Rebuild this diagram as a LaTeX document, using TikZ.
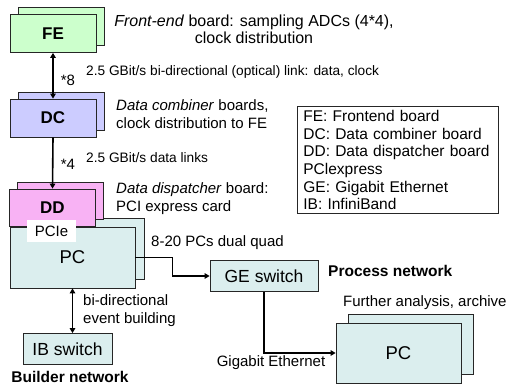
\documentclass[tikz,border=0pt]{standalone}
\usepackage{fontspec}
\setmainfont{Liberation Sans}
\usetikzlibrary{arrows.meta,shadows}

\definecolor{fegreen}{RGB}{204,255,204}
\definecolor{dcblue}{RGB}{204,204,255}
\definecolor{ddpink}{RGB}{248,178,244}
\definecolor{pccyan}{RGB}{219,238,238}

\tikzset{
  board/.style={draw=black!85,line width=0.8pt,minimum width=86pt,minimum height=38pt,
    font=\fontsize{17}{17}\selectfont\bfseries},
  pcbox/.style={draw=black!85,line width=0.8pt,fill=pccyan,minimum width=125pt,minimum height=61pt,
    font=\fontsize{18.5}{18.5}\selectfont},
  switchbox/.style={draw=black!85,line width=0.8pt,fill=pccyan,minimum height=31pt,
    font=\fontsize{17.5}{17.5}\selectfont},
  desc/.style={inner sep=0pt,font=\fontsize{15}{18}\selectfont},
  linktext/.style={inner sep=0pt,font=\fontsize{13.7}{16}\selectfont},
  netname/.style={inner sep=0pt,font=\fontsize{15.5}{18}\selectfont\bfseries},
  link/.style={line width=1.6pt,-{Triangle[length=5pt,width=5.5pt]}},
  dlink/.style={line width=1.6pt,{Triangle[length=5pt,width=5.5pt]}-{Triangle[length=5pt,width=5.5pt]}}
}

\begin{document}
\begin{tikzpicture}[x=1pt,y=-1pt]
    \useasboundingbox (0,0) rectangle (513,385);
    % boards
    \node[board,fill=fegreen,copy shadow={shadow xshift=8pt,shadow yshift=7pt}] (FE) at (53,33.5) {FE};
    \node[board,fill=dcblue,copy shadow={shadow xshift=8pt,shadow yshift=7pt}] (DC) at (53,118) {DC};
    \node[pcbox,copy shadow={shadow xshift=9pt,shadow yshift=9pt}] (PC) at (72.5,257.5) {PC};
    \node[board,fill=ddpink,minimum height=37pt,copy shadow={shadow xshift=8pt,shadow yshift=7pt}] (DD) at (52.5,207.5) {DD};
    \node[fill=white,minimum width=49pt,minimum height=22pt,inner sep=0pt,font=\fontsize{15}{15}\selectfont] (PCIe) at (51.5,231) {PCIe};
    \node[switchbox,minimum width=108pt] (GE) at (264,276) {GE switch};
    \node[switchbox,minimum width=89pt] (IB) at (67.5,349) {IB switch};
    \node[pcbox,minimum height=60pt,copy shadow={shadow xshift=12pt,shadow yshift=9pt}] (PCr) at (398.5,353) {PC};
    % legend
    \node[draw=black!85,line width=0.8pt,fill=white,anchor=north west,align=left,text width=189pt,
      inner xsep=6pt,inner ysep=4pt,font=\fontsize{15.5}{17.6}\selectfont] (legend) at (297,106)
      {FE: Frontend board\\DC: Data combiner board\\DD: Data dispatcher board\\PClexpress\\GE: Gigabit Ethernet\\IB: InfiniBand};
    % links
    \draw[dlink] (FE.south) -- (DC.north);
    \draw[link] (DC.south) -- (DD.north);
    \draw[link] (PC.east) -- ++(37,0) |- (GE.west);
    \draw[link] (GE.south) |- (PCr.west);
    \draw[dlink] (PC.south) -- (PC.south |- IB.north);
    % texts
    \node[desc,align=center,font=\fontsize{16}{17}\selectfont] (FEtext) at (254,29.5) {\textit{Front-end} board: sampling ADCs (4*4),\\clock distribution};
    \node[desc] (n8) at (68,80) {*8};
    \node[linktext,anchor=west] (FEDClink) at (86,72) {2.5 GBit/s bi-directional (optical) link: data, clock};
    \node[desc,align=left,anchor=west] (DCtext) at (116,114) {\textit{Data combiner} boards,\\clock distribution to FE};
    \node[desc] (n4) at (68,164) {*4};
    \node[linktext,anchor=west] (DCDDlink) at (86,158) {2.5 GBit/s data links};
    \node[desc,align=left,anchor=west] (DDtext) at (116,199) {\textit{Data dispatcher} board:\\PCI express card};
    \node[desc,anchor=west] (PCtext) at (151,243) {8-20 PCs dual quad};
    \node[netname,anchor=west] (procnet) at (328,271) {Process network};
    \node[desc,anchor=west] (PCrtext) at (343,303) {Further analysis, archive};
    \node[desc] (GEtext) at (271,363) {Gigabit Ethernet};
    \node[desc,align=left,anchor=west] (IBtext) at (83,311) {bi-directional\\event building};
    \node[netname] (buildnet) at (70,377) {Builder network};
\end{tikzpicture}
\end{document}
